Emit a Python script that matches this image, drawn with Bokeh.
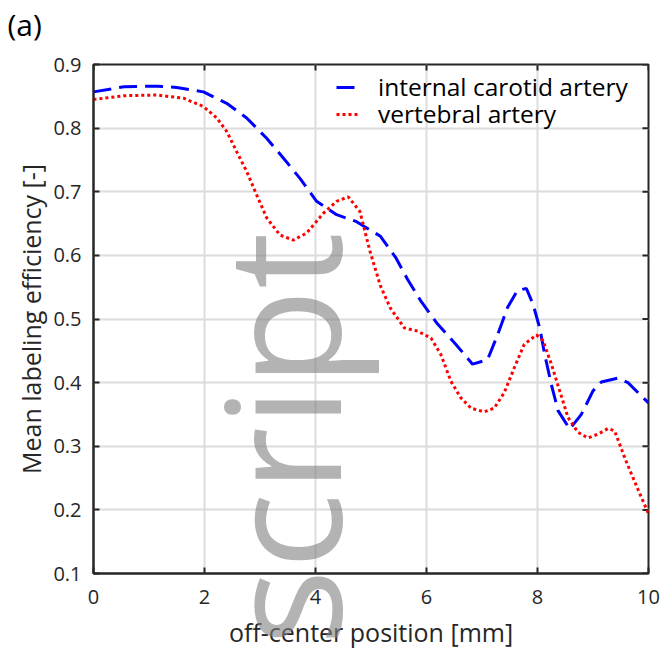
import math
from bokeh.plotting import figure
from bokeh.models import Range1d, FixedTicker, Legend, LegendItem, Title
from bokeh.embed import file_html
from bokeh.resources import INLINE

# ---- data ----
x_ica = [0, 0.55, 1.14, 1.5, 1.98, 2.4, 2.76, 3.12, 3.42, 3.72, 4.02, 4.38, 4.74, 5.17,
         5.45, 5.66, 5.9, 6.2, 6.53, 6.83, 7.1, 7.28, 7.46, 7.64, 7.8, 7.92, 8.04, 8.13,
         8.25, 8.37, 8.58, 8.79, 9.0, 9.15, 9.45, 9.63, 9.93, 10]
y_ica = [0.857, 0.865, 0.866, 0.864, 0.857, 0.839, 0.816, 0.784, 0.753, 0.721, 0.685,
         0.664, 0.653, 0.630, 0.596, 0.562, 0.528, 0.492, 0.460, 0.429, 0.436, 0.475,
         0.518, 0.545, 0.548, 0.523, 0.486, 0.444, 0.397, 0.356, 0.327, 0.350, 0.387,
         0.401, 0.407, 0.400, 0.374, 0.368]

x_va = [0, 0.55, 1.14, 1.62, 1.98, 2.22, 2.4, 2.58, 2.76, 2.94, 3.12, 3.36, 3.6, 3.84,
        4.14, 4.38, 4.59, 4.8, 4.98, 5.17, 5.35, 5.6, 5.84, 6.08, 6.26, 6.44, 6.62, 6.8,
        7.04, 7.22, 7.4, 7.58, 7.76, 7.98, 8.1, 8.25, 8.4, 8.55, 8.73, 8.91, 9.09, 9.27,
        9.39, 9.58, 9.82, 10]
y_va = [0.845, 0.851, 0.852, 0.847, 0.834, 0.816, 0.795, 0.763, 0.732, 0.695, 0.659,
        0.632, 0.624, 0.635, 0.666, 0.685, 0.692, 0.669, 0.607, 0.552, 0.517, 0.486,
        0.481, 0.470, 0.444, 0.402, 0.376, 0.360, 0.354, 0.360, 0.384, 0.423, 0.460,
        0.475, 0.466, 0.429, 0.387, 0.345, 0.322, 0.313, 0.319, 0.328, 0.324, 0.280,
        0.230, 0.194]

series_names = ["internal carotid artery", "vertebral artery"]
x_ticks = [0, 2, 4, 6, 8, 10]
y_ticks = [0.1, 0.2, 0.3, 0.4, 0.5, 0.6, 0.7, 0.8, 0.9]
x_label = "off-center position [mm]"
y_label = "Mean labeling efficiency [-]"
panel_label = "(a)"
watermark = "script"

FONT = "Open Sans"
DARK = "#262626"

p = figure(width=660, height=651, output_backend="svg", toolbar_location=None,
           x_range=Range1d(0, 10), y_range=Range1d(0.1, 0.9),
           min_border_left=93, min_border_right=12, min_border_top=64, min_border_bottom=78)

p.background_fill_color = "white"
p.border_fill_color = "white"
p.outline_line_color = DARK
p.outline_line_width = 2

# panel label "(a)" as the title, pulled to the top-left corner
p.title.text = panel_label
p.title.align = "left"
p.title.offset = -86
p.title.vertical_align = "top"
p.title.standoff = -121
p.title.text_font = FONT
p.title.text_font_size = "30px"
p.title.text_font_style = "normal"
p.title.text_color = "black"

for ax in (p.xaxis[0], p.yaxis[0]):
    ax.major_tick_in = 6
    ax.major_tick_out = 0
    ax.minor_tick_line_color = None
    ax.axis_line_color = DARK
    ax.axis_line_width = 2
    ax.major_tick_line_color = DARK
    ax.major_tick_line_width = 2
    ax.major_label_text_font = FONT
    ax.major_label_text_font_size = "20px"
    ax.major_label_text_color = DARK
    ax.axis_label_text_font = FONT
    ax.axis_label_text_font_size = "25px"
    ax.axis_label_text_font_style = "normal"
    ax.axis_label_text_color = DARK

p.xaxis[0].ticker = FixedTicker(ticks=x_ticks)
p.yaxis[0].ticker = FixedTicker(ticks=y_ticks)
p.xaxis[0].axis_label = x_label
p.yaxis[0].axis_label = y_label
p.xaxis[0].major_label_standoff = 16
p.yaxis[0].major_label_standoff = 12
p.xaxis[0].axis_label_standoff = 8
p.yaxis[0].axis_label_standoff = 2

p.xgrid.ticker = FixedTicker(ticks=x_ticks)
p.ygrid.ticker = FixedTicker(ticks=y_ticks)
for g in (p.xgrid[0], p.ygrid[0]):
    g.grid_line_color = "#dcdcdc"
    g.grid_line_width = 2

# mirrored inward ticks on the top and right edges of the box
p.ray(x=x_ticks, y=[p.y_range.end] * len(x_ticks), length=6, length_units="screen",
      angle=-math.pi / 2, line_color=DARK, line_width=2)
p.ray(x=[p.x_range.end] * len(y_ticks), y=y_ticks, length=6, length_units="screen",
      angle=math.pi, line_color=DARK, line_width=2)

r1 = p.line(x_ica, y_ica, line_color="#0000ff", line_width=3, line_dash="18 8")
r2 = p.line(x_va, y_va, line_color="#ff0000", line_width=3, line_dash="3 3")

def make_legend(item, loc):
    lg = Legend(items=[item], location=loc)
    lg.background_fill_alpha = 0
    lg.border_line_alpha = 0
    lg.label_text_font = FONT
    lg.label_text_font_size = "24.5px"
    lg.label_text_color = "black"
    lg.glyph_width = 22
    lg.label_standoff = 20
    lg.padding = 5
    lg.margin = 0
    lg.label_height = 20
    lg.glyph_height = 20
    return lg

p.add_layout(make_legend(LegendItem(label=series_names[0], renderers=[r1]), (238, 465)))
p.add_layout(make_legend(LegendItem(label=series_names[1], renderers=[r2]), (238, 438)))

# watermark: rotated title in the left panel, pushed into the plot area
wm = Title(text=watermark, align="left", offset=-72, vertical_align="bottom", standoff=-752,
           text_font=FONT, text_font_size="160px", text_font_style="normal",
           text_color="#808080", text_alpha=0.6)
p.add_layout(wm, "left")

open("out.html", "w").write(file_html(p, INLINE))
